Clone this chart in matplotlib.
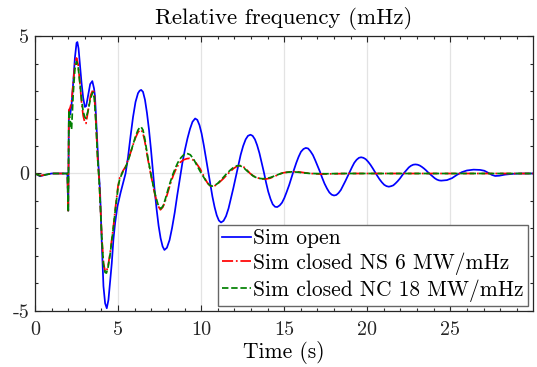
import matplotlib
matplotlib.use("Agg")
import matplotlib.pyplot as plt
from matplotlib.ticker import MultipleLocator

plt.rcParams["font.family"] = ["cmr10", "DejaVu Serif"]
plt.rcParams["axes.formatter.use_mathtext"] = True

# Relative frequency response (mHz) for the three simulations
t_open = [0.0, 0.3, 0.6, 1.0, 1.5, 1.95, 2.0, 2.04, 2.12, 2.2, 2.3, 2.4, 2.5, 2.55, 2.62,
          2.7, 2.8, 2.9, 3.0, 3.08, 3.2, 3.32, 3.45, 3.55, 3.61, 3.71, 3.81, 3.92, 4.02,
          4.12, 4.22, 4.32, 4.42, 4.52, 4.62, 4.72, 4.82, 4.96, 5.15, 5.32, 5.45, 5.6,
          5.75, 5.9, 6.05, 6.2, 6.3, 6.39, 6.5, 6.62, 6.74, 6.86, 6.98, 7.09, 7.2, 7.32,
          7.44, 7.56, 7.68, 7.79, 7.94, 8.1, 8.25, 8.41, 8.56, 8.72, 8.87, 9.02, 9.18,
          9.33, 9.48, 9.64, 9.77, 9.9, 10.03, 10.16, 10.29, 10.42, 10.55, 10.68, 10.81,
          10.94, 11.07, 11.2, 11.35, 11.5, 11.65, 11.79, 11.94, 12.09, 12.24, 12.38,
          12.53, 12.68, 12.82, 12.97, 13.1, 13.24, 13.37, 13.51, 13.64, 13.78, 13.91,
          14.04, 14.18, 14.31, 14.45, 14.58, 14.73, 14.87, 15.01, 15.15, 15.3, 15.44,
          15.58, 15.73, 15.87, 16.01, 16.16, 16.3, 16.44, 16.58, 16.73, 16.87, 17.01,
          17.15, 17.29, 17.43, 17.58, 17.72, 17.86, 18.0, 18.14, 18.27, 18.41, 18.54,
          18.68, 18.82, 18.95, 19.09, 19.22, 19.36, 19.5, 19.63, 19.77, 19.91, 20.05,
          20.19, 20.33, 20.47, 20.6, 20.74, 20.88, 21.02, 21.16, 21.3, 21.44, 21.57,
          21.7, 21.83, 21.97, 22.1, 22.23, 22.37, 22.5, 22.63, 22.77, 22.9, 23.03, 23.16,
          23.29, 23.42, 23.55, 23.68, 23.81, 23.93, 24.06, 24.19, 24.32, 24.45, 24.8,
          25.1, 25.4, 25.7, 26.0, 26.4, 26.8, 27.05, 27.3, 27.5, 27.7, 27.95, 28.3, 28.8,
          29.3, 30.0]
f_open = [0.0, -0.1, -0.05, 0.0, 0.0, 0.0, -1.35, 2.3, 2.15, 2.5, 3.3, 4.2, 4.75, 4.78, 4.55,
          4.0, 3.3, 2.75, 2.42, 2.45, 2.85, 3.25, 3.36, 3.1, 2.82, 1.6, 0.39, -0.72, -2.54,
          -4.1, -4.72, -4.9, -4.6, -3.95, -3.27, -2.4, -1.81, -1.2, -0.7, -0.3, 0.0, 0.6,
          1.35, 2.05, 2.6, 2.92, 3.01, 3.04, 2.97, 2.68, 2.2, 1.6, 0.88, 0.13, -0.6, -1.3,
          -1.9, -2.35, -2.65, -2.78, -2.7, -2.42, -1.98, -1.42, -0.8, -0.2, 0.38, 0.85,
          1.28, 1.62, 1.88, 2.0, 1.95, 1.76, 1.45, 1.03, 0.56, 0.1, -0.37, -0.84, -1.22,
          -1.52, -1.71, -1.78, -1.72, -1.55, -1.27, -0.92, -0.53, -0.12, 0.3, 0.68, 1.0,
          1.24, 1.37, 1.41, 1.37, 1.24, 1.03, 0.74, 0.4, 0.04, -0.33, -0.66, -0.93, -1.12,
          -1.21, -1.22, -1.16, -1.06, -0.89, -0.67, -0.42, -0.15, 0.12, 0.39, 0.61, 0.79,
          0.89, 0.93, 0.91, 0.81, 0.67, 0.48, 0.28, 0.07, -0.16, -0.37, -0.55, -0.69,
          -0.77, -0.8, -0.78, -0.71, -0.6, -0.45, -0.28, -0.1, 0.07, 0.24, 0.39, 0.5,
          0.57, 0.59, 0.57, 0.52, 0.43, 0.32, 0.19, 0.05, -0.08, -0.21, -0.32, -0.41,
          -0.46, -0.48, -0.46, -0.43, -0.36, -0.28, -0.18, -0.07, 0.03, 0.13, 0.22, 0.28,
          0.32, 0.33, 0.32, 0.29, 0.24, 0.18, 0.11, 0.03, -0.04, -0.11, -0.17, -0.22,
          -0.25, -0.26, -0.24, -0.17, -0.05, 0.05, 0.11, 0.14, 0.13, 0.1, 0.02, -0.05,
          -0.09, -0.08, -0.04, -0.01, 0.0, 0.0]

t_ns = [0.0, 0.3, 0.6, 1.0, 1.95, 2.0, 2.04, 2.12, 2.2, 2.3, 2.4, 2.5, 2.6, 2.7, 2.8, 2.9,
        3.0, 3.07, 3.2, 3.35, 3.5, 3.57, 3.67, 3.77, 3.86, 3.92, 4.02, 4.12, 4.22, 4.3,
        4.4, 4.52, 4.62, 4.72, 4.82, 4.92, 5.0, 5.1, 5.3, 5.45, 5.6, 5.75, 5.9, 6.05,
        6.2, 6.3, 6.38, 6.48, 6.6, 6.8, 7.0, 7.2, 7.38, 7.55, 7.7, 7.85, 8.0, 8.15, 8.33,
        8.53, 8.73, 8.95, 9.15, 9.3, 9.5, 9.7, 9.94, 10.1, 10.24, 10.4, 10.55, 10.7, 10.9,
        11.1, 11.35, 11.55, 11.75, 11.95, 12.15, 12.3, 12.45, 12.65, 12.8, 12.95, 13.15,
        13.4, 13.65, 13.9, 14.15, 14.4, 14.65, 14.9, 15.2, 15.5, 15.85, 16.2, 16.6, 17.2,
        18.0, 19.0, 30.0]
f_ns = [0.0, -0.08, -0.05, 0.0, 0.0, -1.35, 2.3, 2.4, 2.6, 3.3, 3.95, 4.2, 3.95, 3.3, 2.6,
        2.1, 1.85, 1.82, 2.3, 2.85, 3.06, 2.88, 1.85, 0.55, -0.2, -0.96, -2.3, -3.25,
        -3.55, -3.57, -3.35, -2.9, -2.4, -1.93, -1.35, -0.84, -0.45, -0.15, 0.1, 0.25,
        0.49, 0.75, 1.04, 1.3, 1.5, 1.57, 1.59, 1.5, 1.2, 0.5, -0.12, -0.72, -1.15, -1.32,
        -1.22, -0.98, -0.68, -0.37, -0.06, 0.22, 0.4, 0.5, 0.54, 0.55, 0.5, 0.38, 0.17,
        -0.02, -0.2, -0.36, -0.45, -0.48, -0.42, -0.32, -0.18, -0.05, 0.07, 0.18, 0.26,
        0.29, 0.28, 0.2, 0.1, 0.0, -0.09, -0.16, -0.2, -0.2, -0.17, -0.11, -0.04, 0.02,
        0.05, 0.07, 0.06, 0.03, 0.0, -0.02, -0.01, 0.0, 0.0]

t_nc = [0.0, 0.3, 0.6, 1.0, 1.95, 2.0, 2.04, 2.1, 2.2, 2.3, 2.4, 2.5, 2.6, 2.7, 2.8, 2.9,
        3.0, 3.07, 3.2, 3.35, 3.48, 3.57, 3.67, 3.77, 3.86, 3.92, 4.02, 4.12, 4.22, 4.3,
        4.4, 4.52, 4.62, 4.72, 4.82, 4.92, 5.0, 5.1, 5.3, 5.45, 5.6, 5.75, 5.9, 6.05,
        6.2, 6.3, 6.38, 6.5, 6.62, 6.8, 7.0, 7.2, 7.4, 7.58, 7.72, 7.85, 8.0, 8.15, 8.3,
        8.45, 8.6, 8.78, 8.95, 9.15, 9.35, 9.55, 9.74, 9.94, 10.14, 10.32, 10.5, 10.65,
        10.8, 11.0, 11.25, 11.5, 11.75, 11.95, 12.15, 12.35, 12.55, 12.75, 12.95, 13.15,
        13.4, 13.7, 13.95, 14.2, 14.5, 14.8, 15.1, 15.45, 15.8, 16.2, 16.6, 17.5, 18.5,
        30.0]
f_nc = [0.0, -0.08, -0.05, 0.0, 0.0, -1.4, 2.3, 2.0, 1.6, 2.9, 3.8, 4.07, 3.85, 3.3, 2.7,
        2.25, 2.05, 2.0, 2.3, 2.75, 2.95, 2.75, 1.8, 0.55, -0.25, -1.0, -2.35, -3.3, -3.6,
        -3.62, -3.4, -2.95, -2.45, -1.95, -1.4, -0.9, -0.5, -0.2, 0.08, 0.22, 0.45, 0.75,
        1.05, 1.35, 1.58, 1.67, 1.7, 1.58, 1.22, 0.55, -0.1, -0.68, -1.12, -1.28, -1.17,
        -0.92, -0.6, -0.3, -0.03, 0.2, 0.4, 0.57, 0.68, 0.73, 0.68, 0.52, 0.3, 0.08,
        -0.12, -0.3, -0.42, -0.46, -0.44, -0.36, -0.2, -0.03, 0.12, 0.22, 0.28, 0.28,
        0.22, 0.1, 0.0, -0.1, -0.17, -0.19, -0.18, -0.14, -0.07, 0.0, 0.04, 0.06, 0.05,
        0.02, 0.0, -0.01, 0.0, 0.0]

labels = ["Sim open", "Sim closed NS 6 MW/mHz", "Sim closed NC 18 MW/mHz"]
x_major = [0, 5, 10, 15, 20, 25]
x_major_labels = ["0", "5", "10", "15", "20", "25"]
y_major = [-5, 0, 5]
y_major_labels = ["-5", "0", "5"]

fig = plt.figure(figsize=(5.37, 3.67), dpi=100)
ax = fig.add_axes([0.0652, 0.1526, 0.9274, 0.7493])

ax.plot(t_open, f_open, color="#0000ff", lw=1.25, ls="-", label=labels[0])
ax.plot(t_ns, f_ns, color="#ff0000", lw=1.25, ls="-.", label=labels[1])
ax.plot(t_nc, f_nc, color="#008000", lw=1.25, ls="--", label=labels[2])

ax.set_xlim(0, 29.98)
ax.set_ylim(-5, 5)
ax.set_xticks(x_major)
ax.set_xticklabels(x_major_labels)
ax.set_yticks(y_major)
ax.set_yticklabels(y_major_labels)
ax.xaxis.set_minor_locator(MultipleLocator(1))
ax.yaxis.set_minor_locator(MultipleLocator(1))
ax.tick_params(which="both", direction="in", top=True, right=True, labelsize=14.5,
               width=0.8, colors="#262626")
ax.tick_params(which="major", length=4.5)
ax.tick_params(which="minor", length=2.5)
ax.tick_params(axis="x", pad=7)
ax.tick_params(axis="y", pad=4)
ax.grid(True, which="major", color="#e3e3e3", lw=0.9)
ax.set_axisbelow(True)
for s in ax.spines.values():
    s.set_linewidth(0.9)
    s.set_color("#262626")

ax.set_title("Relative frequency (mHz)", fontsize=16.5, pad=9)
ax.set_xlabel("Time (s)", fontsize=15.5, labelpad=2)

leg = ax.legend(loc="lower right", fontsize=15.5, frameon=True, fancybox=False,
                edgecolor="#666666", framealpha=1, handlelength=1.35,
                handletextpad=0.1, labelspacing=0.2, borderpad=0.18,
                borderaxespad=0.25)
leg.get_frame().set_linewidth(1.0)

fig.savefig("out.png", dpi=100)
